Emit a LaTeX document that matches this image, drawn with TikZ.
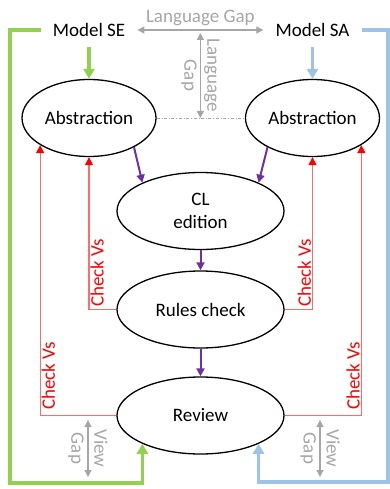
\documentclass[tikz,border=0pt]{standalone}
\usepackage{fontspec}
\setmainfont{Carlito}
\usepackage{xcolor}
\usepackage{tikz}
\usetikzlibrary{shapes.geometric,arrows.meta,positioning}
\definecolor{segreen}{HTML}{92D050}
\definecolor{sablue}{HTML}{9DC3E6}
\definecolor{flowpurple}{HTML}{7030A0}
\definecolor{gapgray}{HTML}{A6A6A6}
\definecolor{checkred}{HTML}{FF6A6A}

\begin{document}
\begin{tikzpicture}[x=1pt, y=-1pt, font=\fontsize{19}{23}\selectfont,
    main node/.style={ellipse, draw, line width=1.3pt, inner sep=0pt, minimum height=77pt, align=center},
    small node/.style={main node, minimum width=134pt},
    big node/.style={main node, minimum width=167pt},
    model node/.style={inner xsep=12pt, inner ysep=10pt},
    flow/.style={draw=flowpurple, line width=2pt, -{Triangle[length=8pt,width=8pt]}},
    feed/.style={line width=3.5pt, -{Triangle[length=10pt,width=11pt]}},
    check/.style={draw=checkred, line width=1.1pt, -{Triangle[length=8pt,width=8pt,color=red]}},
    check label/.style={text=red, rotate=90, inner sep=1pt},
    gap/.style={draw=gapgray, line width=1.2pt, {Triangle[length=7pt,width=7pt]}-{Triangle[length=7pt,width=7pt]}},
    gap label/.style={text=gapgray, align=center, rotate=-90}]

                \useasboundingbox (0,0) rectangle (389,489);

                \node[small node] (absl) at (89,118) {Abstraction};
                \node[small node] (absr) [right of=absl, node distance=223.5pt] {Abstraction};
                \node[model node] (se) [above of=absl, node distance=88pt] {Model SE};
                \node[model node] (sa) [above of=absr, node distance=88pt] {Model SA};
                \node[big node] (cl) at (200.5,211) {CL\\edition};
                \node[big node] (rules) [below of=cl, node distance=98.5pt] {Rules check};
                \node[big node] (review) [below of=rules, node distance=106pt] {Review};

                \coordinate (gbend) at (10,483);
                \coordinate (bbend) at (388,482);
                \coordinate (vgltop) at (88,420);
                \coordinate (vglbot) at (88,477);
                \coordinate (vgrtop) at (320,420);
                \coordinate (vgrbot) at (320,477);

                \draw[gap] (se) -- node[above, text=gapgray] {Language Gap} coordinate (lgtop) (sa);
                \draw[gap] ([yshift=-3pt]lgtop) -- node[midway, gap label] {Language\\Gap} (lgtop |- absl);
                \draw[gapgray, dash dot, thin] (absl) -- (absr);
                \draw[gap] (vgltop) -- node[midway, gap label] {View\\Gap} (vglbot);
                \draw[gap] (vgrtop) -- node[midway, gap label] {View\\Gap} (vgrbot);

                \draw[feed, segreen] (se) -- (absl);
                \draw[feed, sablue] (sa) -- (absr);
                \draw[feed, segreen] (se.west) -| (gbend) -| (review.206);
                \draw[feed, sablue] (sa.east) -| (bbend) -| (review.334);

                \draw[flow] (absl.327) -- (cl.154);
                \draw[flow] (absr.213) -- (cl.26);
                \draw[flow] (cl) -- (rules);
                \draw[flow] (rules) -- (review);

                \draw[check] (rules.west) -| node[pos=0.62, check label, anchor=north] {Check Vs} (absl.south);
                \draw[check] (rules.east) -| node[pos=0.62, check label, anchor=south] {Check Vs} (absr.south);
                \draw[check] (review.west) -| node[pos=0.573, check label, anchor=north] {Check Vs} (absl.209);
                \draw[check] (review.east) -| node[pos=0.573, check label, anchor=south] {Check Vs} (absr.331);
            \end{tikzpicture}
\end{document}
